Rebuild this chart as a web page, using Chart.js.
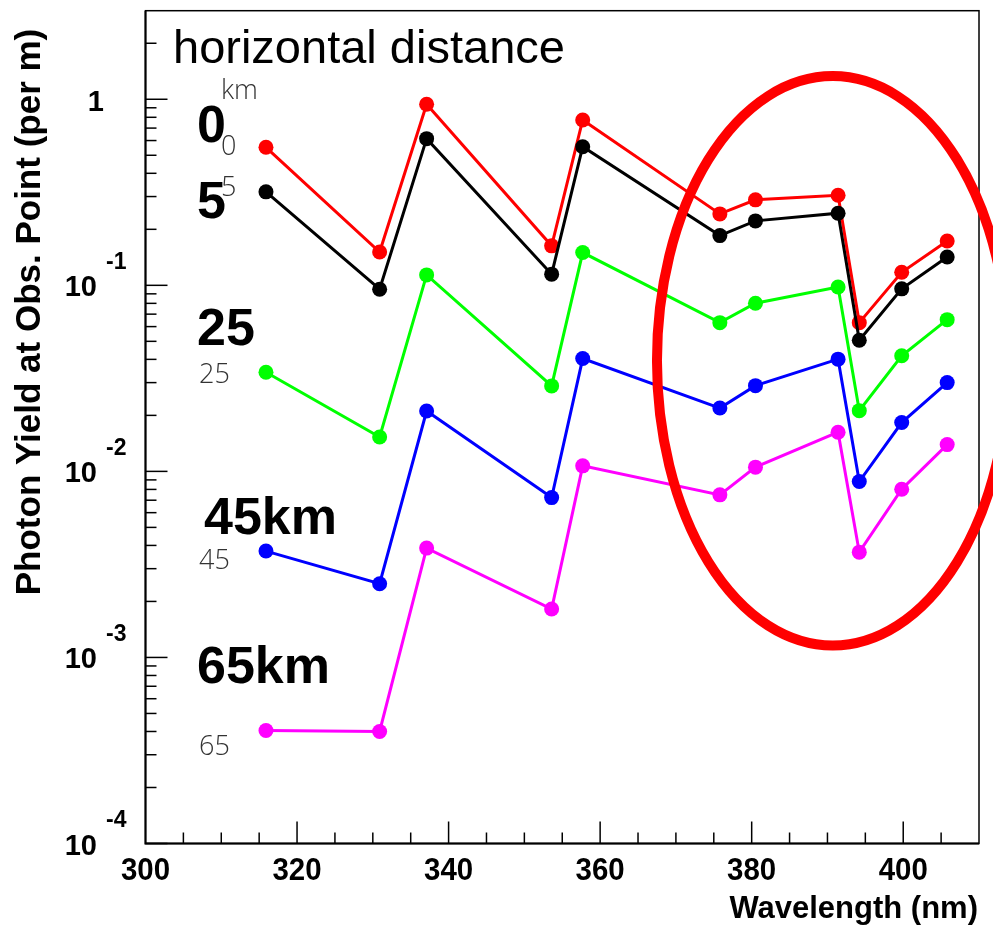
<!DOCTYPE html>
<html>
<head>
<meta charset="utf-8">
<title>Photon yield vs wavelength</title>
<script src="https://cdn.jsdelivr.net/npm/chart.js@4.4.1/dist/chart.umd.min.js"></script>
<style>
body { margin: 0; background: #fff; }
canvas { display: block; }
</style>
</head>
<body>
<canvas id="grafica" width="993" height="934"></canvas>
<script>
// wavelengths of the lines (nm)
var longitudes = [315.9, 330.9, 337.1, 353.6, 357.7, 375.8, 380.5, 391.4, 394.2, 399.8, 405.8];

// photon yield at obs. point (per m), one list per horizontal distance
var d0km  = [0.552, 0.151, 0.940, 0.163, 0.774, 0.242, 0.288, 0.305, 0.0630, 0.1175, 0.173];
var d5km  = [0.318, 0.0953, 0.614, 0.1148, 0.556, 0.185, 0.222, 0.244, 0.0507, 0.0957, 0.142];
var d25km = [0.0341, 0.0153, 0.1138, 0.0288, 0.150, 0.0630, 0.0801, 0.098, 0.0212, 0.0418, 0.0654];
var d45km = [0.00373, 0.00249, 0.0211, 0.00723, 0.0404, 0.0219, 0.0289, 0.0401, 0.00882, 0.0183, 0.0300];
var d65km = [0.000405, 0.000400, 0.00387, 0.00182, 0.01071, 0.00748, 0.01054, 0.01624, 0.00368, 0.00802, 0.01393];

var colores = ['#ff0000', '#000000', '#00ff00', '#0000ff', '#ff00ff'];

// axis ticks
var xTicks = [300, 320, 340, 360, 380, 400];
var yDecadas = [0, -1, -2, -3, -4];

// red ellipse around the 375-406 nm lines (center in nm / yield, radius in nm / decades)
var elipse = { x: 390.7, y: 0.0393, rx: 23.2, rdec: 1.53 };

var fuente = '"Liberation Sans", Arial, sans-serif';
var fuenteFina = '"Open Sans", "Liberation Sans", sans-serif';

function puntos(valores) {
  return longitudes.map(function (w, i) { return { x: w, y: valores[i] }; });
}

function serie(valores, color, orden) {
  return {
    data: puntos(valores),
    borderColor: color,
    backgroundColor: color,
    pointBackgroundColor: color,
    pointBorderWidth: 0,
    pointRadius: 7.5,
    borderWidth: 3,
    tension: 0,
    order: orden,
    clip: false
  };
}

var marco = {
  id: 'marco',
  afterDraw: function (chart) {
    var ctx = chart.ctx;
    var sx = chart.scales.x;
    var sy = chart.scales.y;
    var a = chart.chartArea;
    ctx.save();

    // frame
    ctx.strokeStyle = '#000';
    ctx.lineWidth = 1.5;
    ctx.strokeRect(a.left, a.top, a.right - a.left, a.bottom - a.top);
    ctx.lineWidth = 2;
    ctx.beginPath();
    ctx.moveTo(a.left, a.top);
    ctx.lineTo(a.left, a.bottom);
    ctx.lineTo(a.right, a.bottom);
    ctx.stroke();

    // x ticks, inside
    ctx.lineWidth = 1.5;
    for (var w = 305; w < 410; w += 5) {
      var px = sx.getPixelForValue(w);
      var largo = (w % 20 == 0) ? 22 : 11;
      ctx.beginPath();
      ctx.moveTo(px, a.bottom);
      ctx.lineTo(px, a.bottom - largo);
      ctx.stroke();
    }
    // y ticks, inside
    for (var d = -4; d <= 0; d++) {
      for (var m = 1; m <= 9; m++) {
        var v = m * Math.pow(10, d);
        if (v > sy.max) break;
        var py = sy.getPixelForValue(v);
        var l = (m == 1) ? 22 : 11;
        ctx.beginPath();
        ctx.moveTo(a.left, py);
        ctx.lineTo(a.left + l, py);
        ctx.stroke();
      }
    }

    // x labels (a bit narrow, like the original)
    ctx.fillStyle = '#000';
    ctx.textBaseline = 'alphabetic';
    ctx.textAlign = 'center';
    ctx.font = 'bold 32px ' + fuente;
    xTicks.forEach(function (t) {
      ctx.save();
      ctx.translate(sx.getPixelForValue(t), 880);
      ctx.scale(0.92, 1);
      ctx.fillText(String(t), 0, 0);
      ctx.restore();
    });

    // y labels 10^n
    yDecadas.forEach(function (d) {
      var py = sy.getPixelForValue(Math.pow(10, d));
      if (d == 0) {
        ctx.textAlign = 'right';
        ctx.font = 'bold 29px ' + fuente;
        ctx.fillText('1', 104, py + 12);
      } else {
        ctx.textAlign = 'right';
        ctx.font = 'bold 29px ' + fuente;
        ctx.fillText('10', 97, py + 11);
        ctx.textAlign = 'left';
        ctx.font = 'bold 23px ' + fuente;
        ctx.fillText(String(d), 106, py - 16.5);
      }
    });

    // axis titles
    ctx.font = 'bold 31px ' + fuente;
    ctx.textAlign = 'right';
    ctx.fillText('Wavelength (nm)', 978, 918);

    ctx.save();
    ctx.translate(40, 312);
    ctx.rotate(-Math.PI / 2);
    ctx.textAlign = 'center';
    ctx.font = 'bold 35px ' + fuente;
    ctx.fillText('Photon Yield at Obs. Point (per m)', 0, 0);
    ctx.restore();

    // texts on the plot
    ctx.textAlign = 'left';
    ctx.font = '47px ' + fuente;
    ctx.fillText('horizontal distance', 173, 63);

    ctx.font = 'bold 52px ' + fuente;
    ctx.fillText('0', 197, 142);
    ctx.fillText('5', 197, 218);
    ctx.fillText('25', 197, 345);
    ctx.fillText('45km', 204, 534);
    ctx.fillText('65km', 197, 683);

    ctx.fillStyle = '#333';
    ctx.font = '300 27px ' + fuenteFina;
    ctx.fillText('km', 221, 99);
    ctx.fillText('0', 221, 155);
    ctx.fillText('5', 221, 196);
    ctx.fillText('25', 199, 383);
    ctx.fillText('45', 199, 569);
    ctx.fillText('65', 199, 755);

    // ellipse
    var cx = sx.getPixelForValue(elipse.x);
    var cy = sy.getPixelForValue(elipse.y);
    var rx = sx.getPixelForValue(elipse.x + elipse.rx) - cx;
    var ry = cy - sy.getPixelForValue(elipse.y * Math.pow(10, elipse.rdec));
    ctx.strokeStyle = '#ff0000';
    ctx.lineWidth = 10;
    ctx.beginPath();
    ctx.ellipse(cx, cy, rx, ry, 0, 0, Math.PI * 2);
    ctx.stroke();

    ctx.restore();
  }
};

new Chart(document.getElementById('grafica'), {
  type: 'line',
  data: {
    datasets: [
      serie(d0km, colores[0], 5),
      serie(d5km, colores[1], 4),
      serie(d25km, colores[2], 3),
      serie(d45km, colores[3], 2),
      serie(d65km, colores[4], 1)
    ]
  },
  options: {
    responsive: false,
    animation: false,
    layout: { padding: { left: 145.5, top: 10.7, right: 14, bottom: 90.5 } },
    plugins: { legend: { display: false }, tooltip: { enabled: false } },
    scales: {
      x: { type: 'linear', min: 300, max: 410, display: false },
      y: { type: 'logarithmic', min: 1e-4, max: Math.pow(10, 0.476), display: false }
    }
  },
  plugins: [marco]
});
</script>
</body>
</html>
